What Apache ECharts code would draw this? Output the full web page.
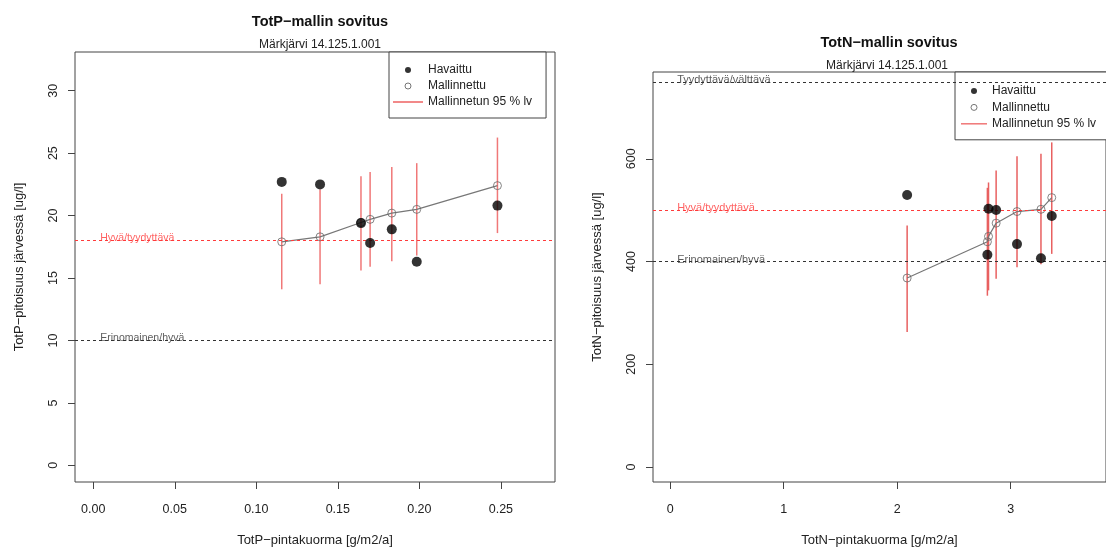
<!DOCTYPE html>
<html>
<head>
<meta charset="utf-8">
<script src="https://cdn.jsdelivr.net/npm/echarts@6/dist/echarts.min.js"></script>
<style>
  html, body { margin: 0; padding: 0; background: #fff; }
  #main { width: 1106px; height: 552px; }
</style>
</head>
<body>
<div id="main"></div>
<script>
// TotP (left panel)
var totpLoad      = [0.1156, 0.1391, 0.1642, 0.1698, 0.1831, 0.1984, 0.2479];
var totpObserved  = [22.7, 22.5, 19.4, 17.8, 18.9, 16.3, 20.8];
var totpModelled  = [17.9, 18.3, 19.45, 19.7, 20.2, 20.5, 22.4];
var totpLower     = [14.1, 14.5, 15.6, 15.9, 16.35, 16.8, 18.6];
var totpUpper     = [21.75, 22.1, 23.15, 23.5, 23.9, 24.2, 26.25];
var totpXTicks    = [0, 0.05, 0.10, 0.15, 0.20, 0.25];
var totpYTicks    = [0, 5, 10, 15, 20, 25, 30];
var totpLimits    = [18, 10];
var totpLimitText = ['Hyvä/tyydyttävä', 'Erinomainen/hyvä'];

// TotN (right panel)
var totnLoad      = [2.088, 2.795, 2.805, 2.872, 3.056, 3.267, 3.362];
var totnObserved  = [529.5, 413.4, 503, 500.5, 434, 406.4, 488.9];
var totnModelled  = [368, 438.6, 449, 474.8, 497.4, 501.8, 524.5];
var totnLower     = [263, 333.6, 344, 366.4, 389, 395, 415];
var totnUpper     = [470, 543.6, 554, 577.3, 605, 610, 632];
var totnXTicks    = [0, 1, 2, 3];
var totnYTicks    = [0, 200, 400, 600];
var totnLimits    = [750, 500, 400];
var totnLimitText = ['Tyydyttävä/välttävä', 'Hyvä/tyydyttävä', 'Erinomainen/hyvä'];

var FONT = 'Liberation Sans, Arial, sans-serif';
var RED = '#f07878';
var AXIS = '#444';

function zip(xs, ys) {
    return xs.map(function (x, i) { return [x, ys[i]]; });
}

function limitColor(text) {
    return text === 'Hyvä/tyydyttävä' ? '#ff3b3b' : '#333';
}

function xAxisFor(idx, min, max, ticks, name, digits) {
    return {
        gridIndex: idx, type: 'value', min: min, max: max, position: 'bottom',
        name: name, nameLocation: 'middle', nameGap: 52,
        nameTextStyle: { fontFamily: FONT, fontSize: 13, color: '#222' },
        axisLine: { show: false, onZero: false },
        axisTick: { show: true, inside: false, length: 7, customValues: ticks,
            lineStyle: { color: AXIS } },
        axisLabel: { customValues: ticks, margin: 21, fontFamily: FONT, fontSize: 12.5, color: '#222',
            formatter: function (v) { return v.toFixed(digits); } },
        splitLine: { show: false }
    };
}

function yAxisFor(idx, min, max, ticks, name) {
    return {
        gridIndex: idx, type: 'value', min: min, max: max, position: 'left',
        name: name, nameLocation: 'middle', nameGap: 49,
        nameTextStyle: { fontFamily: FONT, fontSize: 13, color: '#222' },
        axisLine: { show: false, onZero: false },
        axisTick: { show: true, inside: false, length: 7, customValues: ticks,
            lineStyle: { color: AXIS } },
        axisLabel: { customValues: ticks, margin: 15, rotate: 90, fontFamily: FONT, fontSize: 12.5, color: '#222' },
        splitLine: { show: false }
    };
}

function panelSeries(idx, load, observed, modelled, lower, upper, limits, limitText, ciColor, labelSize) {
    var ciData = load.map(function (x, i) { return [x, lower[i], upper[i]]; });
    return [
        {
            name: 'Mallinnetun 95 % lv', type: 'custom', xAxisIndex: idx, yAxisIndex: idx,
            data: ciData, z: 2, itemStyle: { color: ciColor },
            encode: { x: 0, y: [1, 2] },
            renderItem: function (params, api) {
                var lo = api.coord([api.value(0), api.value(1)]);
                var hi = api.coord([api.value(0), api.value(2)]);
                return { type: 'line', shape: { x1: lo[0], y1: lo[1], x2: hi[0], y2: hi[1] },
                    style: { stroke: ciColor, lineWidth: 1.5 } };
            }
        },
        {
            name: 'fit', type: 'line', xAxisIndex: idx, yAxisIndex: idx,
            data: zip(load, modelled), showSymbol: false, z: 3,
            lineStyle: { color: '#777', width: 1.2 }
        },
        {
            name: 'Mallinnettu', type: 'scatter', xAxisIndex: idx, yAxisIndex: idx,
            data: zip(load, modelled), symbol: 'circle', symbolSize: 8, z: 4,
            itemStyle: { color: 'rgba(255,255,255,0)', borderColor: '#666', borderWidth: 1 }
        },
        {
            name: 'Havaittu', type: 'scatter', xAxisIndex: idx, yAxisIndex: idx,
            data: zip(load, observed), symbol: 'circle', symbolSize: 10, z: 5,
            itemStyle: { color: '#000' }
        },
        {
            name: 'limits', type: 'scatter', xAxisIndex: idx, yAxisIndex: idx, z: 6,
            symbolSize: 0, silent: true,
            data: limits.map(function (v, i) {
                return { value: [0, v, limitText[i]], label: { color: limitColor(limitText[i]) } };
            }),
            label: { show: true, position: 'right', distance: 7, offset: [0, -2],
                fontFamily: FONT, fontSize: labelSize,
                formatter: function (p) { return p.value[2]; } },
            markLine: {
                silent: true, symbol: ['none', 'none'], label: { show: false },
                data: limits.map(function (v, i) {
                    return { yAxis: v, lineStyle: { color: limitColor(limitText[i]), type: [3, 3], width: 1 } };
                })
            }
        }
    ];
}

function legendFor(left, top, iw, pad, gap) {
    return {
        orient: 'vertical', left: left, top: top,
        itemWidth: iw, itemHeight: 6, itemGap: gap, padding: pad,
        borderColor: '#444', borderWidth: 1, backgroundColor: '#fff',
        textStyle: { fontFamily: FONT, fontSize: 12, color: '#222', lineHeight: 14 },
        data: [
            { name: 'Havaittu', icon: 'circle', itemStyle: { color: '#000' } },
            { name: 'Mallinnettu', icon: 'circle',
              itemStyle: { color: 'rgba(255,255,255,0)', borderColor: '#555', borderWidth: 1 } },
            { name: 'Mallinnetun 95 % lv', icon: 'path://M0,0 L24,0 L24,1.4 L0,1.4 Z',
              itemStyle: { color: RED } }
        ]
    };
}

var chart = echarts.init(document.getElementById('main'));
chart.setOption({
    animation: false,
    backgroundColor: '#fff',
    title: [
        { text: 'TotP−mallin sovitus', left: 315, top: 9, textAlign: 'center',
          textStyle: { fontFamily: FONT, fontSize: 14.5, fontWeight: 'bold', color: '#111' } },
        { text: 'Märkjärvi 14.125.1.001', left: 315, top: 34, textAlign: 'center',
          textStyle: { fontFamily: FONT, fontSize: 12, fontWeight: 'normal', color: '#222' } },
        { text: 'TotN−mallin sovitus', left: 884, top: 30, textAlign: 'center',
          textStyle: { fontFamily: FONT, fontSize: 14.5, fontWeight: 'bold', color: '#111' } },
        { text: 'Märkjärvi 14.125.1.001', left: 882, top: 55, textAlign: 'center',
          textStyle: { fontFamily: FONT, fontSize: 12, fontWeight: 'normal', color: '#222' } }
    ],
    legend: [
        legendFor(389, 52, 30, [11, 14, 9, 4], 2),
        legendFor(955, 72, 26, [12, 14, 9, 6], 2.4)
    ],
    grid: [
        { left: 75, top: 52, width: 480, height: 431, show: true, borderColor: AXIS, borderWidth: 1 },
        { left: 653, top: 72, width: 461, height: 412, show: true, borderColor: AXIS, borderWidth: 1 }
    ],
    xAxis: [
        xAxisFor(0, -0.0112, 0.2832, totpXTicks, 'TotP−pintakuorma [g/m2/a]', 2),
        xAxisFor(1, -0.151, 3.84, totnXTicks, 'TotN−pintakuorma [g/m2/a]', 0)
    ],
    yAxis: [
        yAxisFor(0, -1.33, 33.1, totpYTicks, 'TotP−pitoisuus järvessä [ug/l]'),
        yAxisFor(1, -29, 769, totnYTicks, 'TotN−pitoisuus järvessä [ug/l]')
    ],
    series: panelSeries(0, totpLoad, totpObserved, totpModelled, totpLower, totpUpper,
                        totpLimits, totpLimitText, RED, 10.5)
        .concat(panelSeries(1, totnLoad, totnObserved, totnModelled, totnLower, totnUpper,
                        totnLimits, totnLimitText, '#e86060', 11))
});
</script>
</body>
</html>
